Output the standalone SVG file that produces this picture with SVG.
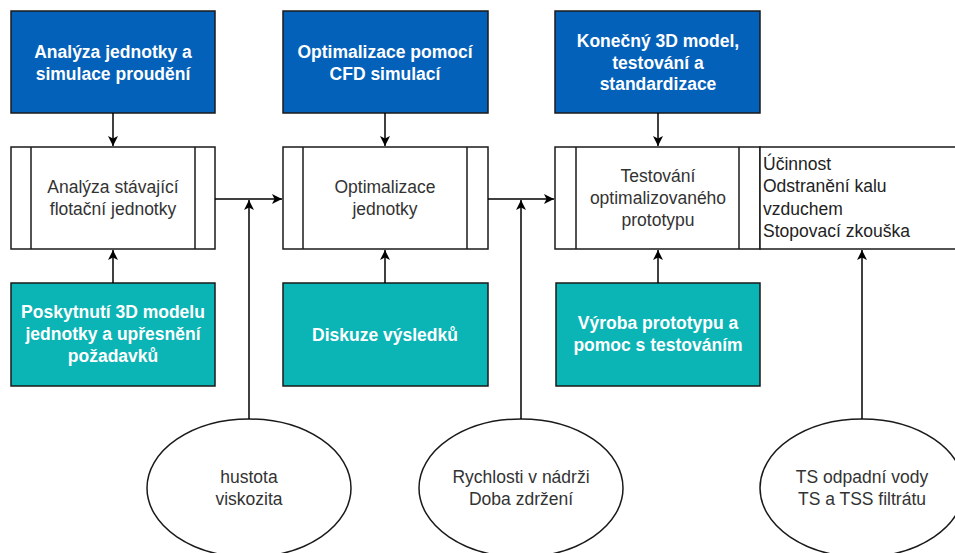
<svg xmlns="http://www.w3.org/2000/svg" width="955" height="553" viewBox="0 0 955 553">
  <defs>
    <marker id="arrow" viewBox="0 0 10 10" refX="10" refY="5" markerWidth="10" markerHeight="10" markerUnits="userSpaceOnUse" orient="auto">
      <path d="M0,0 L10,5 L0,10 L2.5,5 Z" fill="#000"/>
    </marker>
  </defs>
  <style>
    .blue { fill: #0461BA; stroke: #1a1a1a; stroke-width: 1.5; }
    .teal { fill: #0BB4B5; stroke: #1a1a1a; stroke-width: 1.5; }
    .proc { fill: #fff; stroke: #1a1a1a; stroke-width: 1.5; }
    .ell { fill: #fff; stroke: #1a1a1a; stroke-width: 1.5; }
    .hd { font-family: "Liberation Sans", Arial, sans-serif; font-size: 17.5px; font-weight: bold; fill: #fff; text-anchor: middle; }
    .tx { font-family: "Liberation Sans", Arial, sans-serif; font-size: 17.5px; fill: #333; text-anchor: middle; }
    .lt { font-family: "Liberation Sans", Arial, sans-serif; font-size: 17.5px; fill: #222; text-anchor: start; }
    .edge { fill: none; stroke: #000; stroke-width: 1.5; }
  </style>
  <rect width="955" height="553" fill="#fff"/>

  <!-- top stage headers -->
  <g id="stage1">
    <rect class="blue" x="11" y="11" width="204" height="102"/>
    <text class="hd" x="113" y="58">Analýza jednotky a</text>
    <text class="hd" x="113" y="80">simulace proudění</text>
  </g>
  <g id="stage2">
    <rect class="blue" x="283" y="11" width="205" height="102"/>
    <text class="hd" x="385" y="58">Optimalizace pomocí</text>
    <text class="hd" x="385" y="80">CFD simulací</text>
  </g>
  <g id="stage3">
    <rect class="blue" x="555" y="11" width="205" height="102"/>
    <text class="hd" x="658" y="47">Konečný 3D model,</text>
    <text class="hd" x="658" y="69">testování a</text>
    <text class="hd" x="658" y="90">standardizace</text>
  </g>

  <!-- process steps -->
  <g id="process1">
    <rect class="proc" x="11" y="147" width="204" height="102"/>
    <line class="proc" x1="31" y1="147" x2="31" y2="249"/>
    <line class="proc" x1="195" y1="147" x2="195" y2="249"/>
    <text class="tx" x="113" y="193">Analýza stávající</text>
    <text class="tx" x="113" y="215">flotační jednotky</text>
  </g>
  <g id="process2">
    <rect class="proc" x="283" y="147" width="205" height="102"/>
    <line class="proc" x1="303" y1="147" x2="303" y2="249"/>
    <line class="proc" x1="467" y1="147" x2="467" y2="249"/>
    <text class="tx" x="385" y="193">Optimalizace</text>
    <text class="tx" x="385" y="215">jednotky</text>
  </g>
  <g id="process3">
    <rect class="proc" x="555" y="147" width="205" height="102"/>
    <line class="proc" x1="576" y1="147" x2="576" y2="249"/>
    <line class="proc" x1="739" y1="147" x2="739" y2="249"/>
    <text class="tx" x="658" y="182">Testování</text>
    <text class="tx" x="658" y="204">optimalizovaného</text>
    <text class="tx" x="658" y="226">prototypu</text>
  </g>
  <g id="results">
    <rect class="proc" x="760" y="147" width="205" height="102"/>
    <text class="lt" x="763" y="170">Účinnost</text>
    <text class="lt" x="763" y="192">Odstranění kalu</text>
    <text class="lt" x="763" y="215">vzduchem</text>
    <text class="lt" x="763" y="237">Stopovací zkouška</text>
  </g>

  <!-- partner contributions -->
  <g id="input1">
    <rect class="teal" x="11" y="283" width="204" height="103"/>
    <text class="hd" x="113" y="318">Poskytnutí 3D modelu</text>
    <text class="hd" x="113" y="340">jednotky a upřesnění</text>
    <text class="hd" x="113" y="362">požadavků</text>
  </g>
  <g id="input2">
    <rect class="teal" x="283" y="283" width="205" height="103"/>
    <text class="hd" x="385" y="341">Diskuze výsledků</text>
  </g>
  <g id="input3">
    <rect class="teal" x="556" y="283" width="204" height="103"/>
    <text class="hd" x="658" y="329">Výroba prototypu a</text>
    <text class="hd" x="658" y="351">pomoc s testováním</text>
  </g>

  <!-- measured parameters -->
  <g id="param1">
    <ellipse class="ell" cx="249" cy="488" rx="102" ry="69"/>
    <text class="tx" x="249" y="483">hustota</text>
    <text class="tx" x="249" y="505">viskozita</text>
  </g>
  <g id="param2">
    <ellipse class="ell" cx="521" cy="488" rx="102" ry="69"/>
    <text class="tx" x="521" y="483">Rychlosti v nádrži</text>
    <text class="tx" x="521" y="505">Doba zdržení</text>
  </g>
  <g id="param3">
    <ellipse class="ell" cx="862" cy="488" rx="102" ry="69"/>
    <text class="tx" x="862" y="483">TS odpadní vody</text>
    <text class="tx" x="862" y="505">TS a TSS filtrátu</text>
  </g>

  <!-- connectors -->
  <g id="edges">
    <line class="edge" x1="113" y1="113" x2="113" y2="146" marker-end="url(#arrow)"/>
    <line class="edge" x1="385" y1="113" x2="385" y2="146" marker-end="url(#arrow)"/>
    <line class="edge" x1="658" y1="113" x2="658" y2="146" marker-end="url(#arrow)"/>
    <line class="edge" x1="215" y1="199" x2="282" y2="199" marker-end="url(#arrow)"/>
    <line class="edge" x1="488" y1="199" x2="554" y2="199" marker-end="url(#arrow)"/>
    <line class="edge" x1="113" y1="283" x2="113" y2="250" marker-end="url(#arrow)"/>
    <line class="edge" x1="385" y1="283" x2="385" y2="250" marker-end="url(#arrow)"/>
    <line class="edge" x1="658" y1="283" x2="658" y2="250" marker-end="url(#arrow)"/>
    <line class="edge" x1="249" y1="419" x2="249" y2="200" marker-end="url(#arrow)"/>
    <line class="edge" x1="521" y1="419" x2="521" y2="200" marker-end="url(#arrow)"/>
    <line class="edge" x1="862" y1="419" x2="862" y2="250" marker-end="url(#arrow)"/>
  </g>
</svg>
